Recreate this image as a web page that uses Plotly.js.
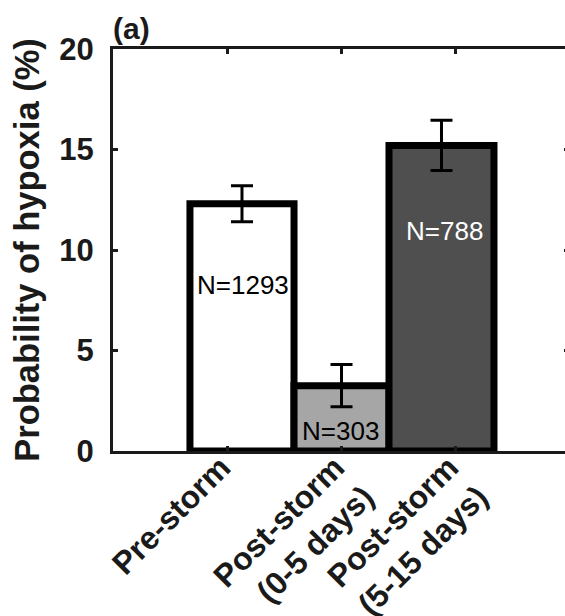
<!DOCTYPE html>
<html>
<head>
<meta charset="utf-8">
<script src="https://cdn.plot.ly/plotly-3.0.1.min.js"></script>
<style>
html,body{margin:0;padding:0;overflow:hidden;background:#fff;}
#chart{width:575px;height:616px;}
</style>
</head>
<body>
<div id="chart"></div>
<script>
// Data
const categories = ['Pre-storm', 'Post-storm<br>(0-5 days)', 'Post-storm<br>(5-15 days)'];
const probability = [12.3, 3.25, 15.2];
const errors = [0.9, 1.05, 1.25];
const sampleLabels = ['N=1293', 'N=303', 'N=788'];
const labelLevels = [8.25, 1.0, 10.95];

// Styles
const fillColors = ['#ffffff', '#a6a6a6', '#4f4f4f'];
const labelColors = ['#000000', '#000000', '#ffffff'];
const barOffsets = [-0.325, -0.412, -0.579];
const barWidths = [0.913, 0.833, 0.921];
const labelShifts = [16, -1, -11];

const FONT = 'Liberation Sans, Arial, sans-serif';

const trace = {
  type: 'bar',
  x: categories,
  y: probability,
  offset: barOffsets,
  width: barWidths,
  marker: {color: fillColors, line: {color: '#000000', width: 7}},
  error_y: {type: 'data', array: errors, visible: true, color: '#000000', thickness: 3, width: 11},
  hoverinfo: 'skip',
  showlegend: false
};

const annotations = sampleLabels.map((t, i) => ({
  x: categories[i], y: labelLevels[i], xref: 'x', yref: 'y',
  text: t, showarrow: false, xshift: labelShifts[i],
  font: {family: FONT, size: 26, color: labelColors[i]}
}));

const axisCommon = {
  showline: true, linewidth: 3, linecolor: '#1a1a1a', mirror: 'ticks',
  ticks: 'inside', ticklen: 5, tickwidth: 3, tickcolor: '#1a1a1a',
  showgrid: false, zeroline: false
};

const layout = {
  width: 575, height: 616,
  margin: {l: 113, r: 6, t: 49, b: 165},
  paper_bgcolor: '#ffffff', plot_bgcolor: '#ffffff',
  font: {family: FONT, color: '#1a1a1a'},
  title: {
    text: '(a)', xref: 'paper', x: 0, xanchor: 'left',
    yref: 'container', y: 1 - 28/616, yanchor: 'middle',
    font: {family: FONT, size: 30, weight: 'bold', color: '#1a1a1a'}
  },
  xaxis: Object.assign({}, axisCommon, {
    type: 'category', range: [-1, 3],
    tickangle: -45,
    ticklabelstandoff: -18,
    ticklabelshift: -6,
    tickfont: {family: FONT, size: 32, weight: 'bold', color: '#1a1a1a'}
  }),
  yaxis: Object.assign({}, axisCommon, {
    range: [0, 20], tickvals: [0, 5, 10, 15, 20],
    ticklabelstandoff: 10,
    tickfont: {family: FONT, size: 31, weight: 'bold', color: '#1a1a1a'},
    title: {text: 'Probability of hypoxia (%)', standoff: 10,
            font: {family: FONT, size: 34.5, weight: 'bold', color: '#1a1a1a'}}
  }),
  annotations: annotations,
  bargap: 0
};

Plotly.newPlot('chart', [trace], layout, {staticPlot: true, displayModeBar: false});
</script>
</body>
</html>
